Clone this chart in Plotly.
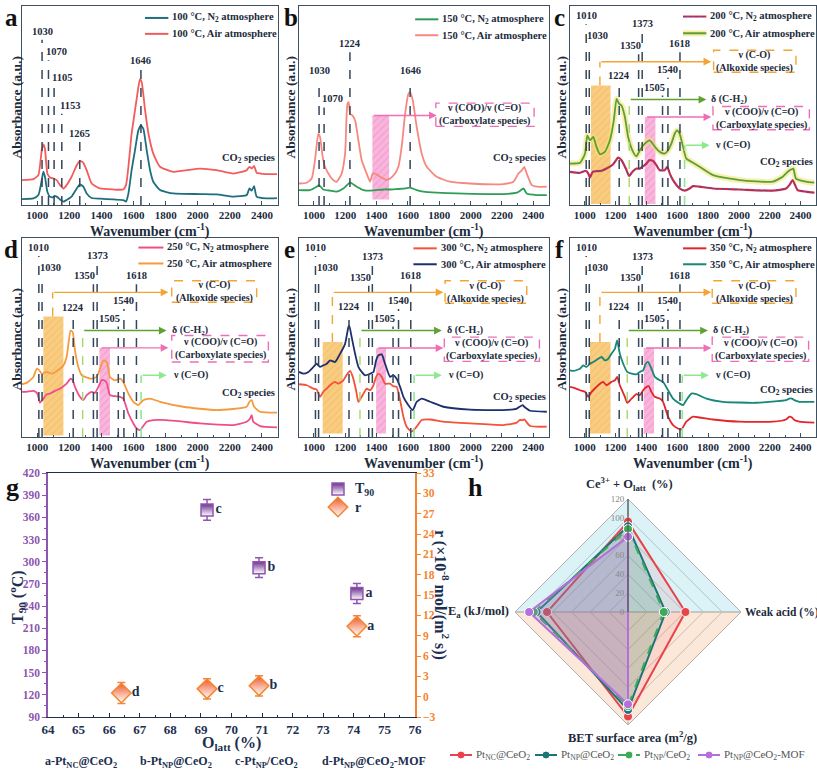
import plotly.graph_objects as go

W, H = 817, 769
FONT = "Liberation Serif"
INK = "#1C2B3C"
FRAME = "#3E4F5F"
DASHC = "#34465A"

# ---------------- DATA: FTIR spectra (absorbance in arbitrary units) ----------------
# a: 100 °C
a_n2_wn = [905, 976, 1007, 1028, 1038, 1048, 1063, 1079, 1100, 1106, 1121, 1142, 1163, 1183, 1214, 1246, 1266, 1287, 1308, 1339,
           1391, 1474, 1536, 1553, 1568, 1588, 1609, 1630, 1646, 1661, 1682, 1703, 1723, 1765, 1848, 2014, 2118, 2222, 2305, 2322,
           2336, 2351, 2367, 2429, 2494]
a_n2_ab = [3.0, 3.3, 5.0, 12.5, 16.7, 14.2, 6.7, 4.2, 3.8, 4.5, 4.2, 2.8, 1.7, 2.5, 4.2, 8.3, 10.3, 9.2, 5.8, 3.5,
           3.2, 2.8, 2.5, 1.7, 5.8, 17.5, 27.5, 37.5, 40.0, 38.3, 27.5, 17.5, 11.7, 7.5, 5.8, 5.5, 5.3, 4.2, 5.0, 8.3,
           7.2, 9.5, 4.2, 3.3, 3.5]
a_air_wn = [905, 976, 1007, 1028, 1038, 1048, 1063, 1079, 1100, 1121, 1142, 1163, 1183, 1214, 1246, 1266, 1287, 1308, 1339, 1391,
            1474, 1536, 1553, 1568, 1588, 1609, 1630, 1640, 1651, 1672, 1693, 1723, 1765, 1848, 2014, 2118, 2222, 2305, 2322, 2336,
            2351, 2367, 2429, 2494]
a_air_ab = [12.5, 13.0, 15.0, 27.5, 30.5, 28.3, 15.8, 13.8, 13.3, 12.5, 10.0, 8.3, 10.0, 14.2, 20.0, 22.2, 21.2, 17.5, 10.8, 8.3,
            7.8, 7.8, 10.0, 19.2, 35.8, 47.5, 59.2, 63.3, 61.7, 47.5, 35.8, 25.8, 19.2, 16.7, 18.3, 17.5, 15.8, 17.5, 19.2, 18.3,
            19.7, 16.2, 15.5, 15.5]
# b: 150 °C
b_n2_wn = [905, 975, 1018, 1033, 1060, 1103, 1145, 1188, 1231, 1273, 1316, 1358, 1401, 1443, 1486, 1528, 1571, 1614, 1656, 1699,
           1784, 1912, 2103, 2209, 2295, 2316, 2337, 2358, 2422, 2486]
b_n2_ab = [7.5, 7.5, 9.2, 10.0, 7.8, 7.2, 6.7, 8.3, 11.2, 9.2, 7.5, 7.2, 7.5, 7.8, 7.8, 8.0, 8.2, 8.7, 7.5, 6.7,
           6.2, 5.8, 5.5, 5.5, 6.2, 7.2, 8.3, 5.8, 5.0, 5.0]
b_air_wn = [905, 954, 986, 1007, 1028, 1039, 1056, 1071, 1092, 1114, 1145, 1177, 1199, 1214, 1222, 1231, 1245, 1263, 1284, 1305,
            1337, 1358, 1375, 1390, 1422, 1465, 1486, 1518, 1539, 1560, 1582, 1603, 1614, 1631, 1656, 1688, 1720, 1784, 1869, 1997,
            2209, 2273, 2305, 2327, 2342, 2358, 2390, 2422, 2486]
b_air_ab = [10.8, 11.2, 13.3, 22.5, 35.8, 34.2, 24.2, 19.2, 15.8, 13.3, 11.7, 15.8, 25.8, 50.8, 51.7, 45.8, 45.0, 42.5, 32.5, 22.5,
            15.8, 11.7, 15.8, 15.8, 14.2, 12.5, 13.3, 15.8, 19.2, 29.2, 45.8, 55.8, 56.7, 52.5, 39.2, 25.8, 19.2, 14.2, 11.7, 10.8,
            10.5, 11.7, 15.8, 17.5, 19.2, 15.8, 10.0, 9.2, 9.2]
# c: 200 °C
c_n2_wn = [905, 970, 1008, 1024, 1034, 1052, 1077, 1110, 1142, 1185, 1217, 1239, 1267, 1289, 1310, 1336, 1358, 1379, 1401, 1418,
           1444, 1465, 1487, 1519, 1536, 1552, 1573, 1616, 1648, 1681, 1702, 1745, 1832, 2004, 2220, 2306, 2327, 2349, 2360, 2381,
           2435, 2489]
c_n2_ab = [16.7, 16.2, 17.2, 15.8, 13.8, 16.7, 17.0, 17.2, 18.3, 20.5, 23.8, 22.5, 18.3, 14.5, 16.7, 18.3, 18.3, 19.5, 20.8, 22.5,
           22.2, 20.0, 17.5, 17.5, 19.2, 15.8, 12.5, 8.3, 7.2, 8.3, 9.5, 9.2, 8.3, 7.8, 7.2, 8.3, 10.0, 12.5, 10.8, 7.5,
           6.7, 6.2]
c_air_wn = [905, 970, 1002, 1017, 1034, 1056, 1077, 1099, 1131, 1164, 1189, 1207, 1224, 1239, 1261, 1282, 1314, 1336, 1358, 1390,
            1422, 1444, 1465, 1487, 1519, 1541, 1562, 1584, 1599, 1616, 1638, 1659, 1692, 1745, 1832, 2004, 2220, 2284, 2317, 2338,
            2353, 2370, 2435, 2489]
c_air_ab = [20.8, 21.2, 25.8, 35.0, 32.5, 34.2, 29.2, 25.5, 26.7, 32.5, 42.5, 53.3, 50.8, 50.0, 44.2, 34.2, 26.7, 24.5, 27.5, 30.8,
            32.5, 30.5, 28.3, 26.7, 25.8, 27.5, 30.8, 35.8, 37.5, 35.8, 29.2, 23.3, 21.7, 19.2, 15.0, 12.5, 11.7, 14.2, 16.7, 17.8,
            18.3, 13.3, 11.7, 11.2]
# d: 250 °C
d_n2_wn = [905, 934, 976, 1001, 1017, 1038, 1059, 1079, 1111, 1142, 1183, 1208, 1221, 1235, 1266, 1287, 1308, 1339, 1360, 1381,
           1401, 1416, 1433, 1453, 1484, 1516, 1536, 1568, 1599, 1620, 1640, 1682, 1723, 1806, 1910, 2014, 2222, 2305, 2326, 2336,
           2346, 2388, 2494]
d_n2_ab = [22.7, 22.7, 23.2, 21.8, 17.2, 19.3, 21.5, 21.8, 23.2, 24.3, 26.8, 29.3, 28.5, 25.2, 20.2, 18.5, 21.0, 22.7, 22.2, 25.2,
           28.5, 28.5, 27.2, 21.0, 20.5, 20.2, 19.3, 11.8, 6.8, 4.3, 3.5, 7.7, 8.5, 8.5, 7.7, 6.8, 6.0, 7.7, 9.3, 11.0,
           7.7, 5.5, 4.8]
d_air_wn = [905, 934, 976, 997, 1013, 1028, 1059, 1090, 1121, 1163, 1183, 1208, 1221, 1235, 1256, 1277, 1297, 1339, 1370, 1391,
            1412, 1433, 1453, 1484, 1516, 1536, 1568, 1599, 1630, 1661, 1703, 1765, 1910, 2118, 2305, 2322, 2336, 2351, 2388, 2494]
d_air_ab = [26.5, 27.2, 30.2, 34.3, 33.5, 31.8, 32.7, 31.8, 33.2, 36.0, 40.2, 53.5, 52.7, 43.5, 35.2, 31.0, 30.2, 29.3, 30.2, 34.3,
            38.5, 37.7, 30.2, 28.5, 29.3, 27.7, 21.8, 17.7, 16.0, 18.5, 19.3, 17.7, 15.2, 13.5, 15.2, 17.7, 18.5, 15.2, 12.7, 12.2]
# e: 300 °C
e_n2_wn = [905, 954, 997, 1018, 1039, 1060, 1082, 1103, 1135, 1156, 1188, 1214, 1231, 1248, 1269, 1284, 1305, 1337, 1358, 1380,
           1397, 1411, 1433, 1454, 1486, 1507, 1528, 1550, 1571, 1592, 1624, 1656, 1688, 1741, 1826, 1997, 2209, 2295, 2312, 2332,
           2342, 2380, 2486]
e_n2_ab = [26.5, 26.0, 24.3, 23.8, 20.2, 22.7, 24.3, 26.0, 27.7, 26.8, 28.5, 31.8, 33.2, 30.2, 23.5, 17.7, 20.2, 24.3, 23.5, 26.0,
           30.2, 31.8, 30.2, 26.8, 26.8, 25.5, 25.2, 18.5, 10.2, 5.2, 2.7, 5.2, 8.5, 8.8, 7.7, 6.8, 6.0, 7.2, 8.5, 8.5,
           8.8, 5.5, 5.2]
e_air_wn = [905, 933, 965, 997, 1018, 1039, 1060, 1082, 1103, 1135, 1167, 1199, 1220, 1226, 1241, 1263, 1284, 1305, 1326, 1358,
            1380, 1397, 1411, 1433, 1454, 1486, 1507, 1528, 1550, 1571, 1603, 1631, 1656, 1688, 1741, 1826, 1997, 2209, 2295, 2312,
            2332, 2342, 2380, 2486]
e_air_ab = [32.7, 31.8, 32.7, 35.2, 36.8, 35.2, 36.0, 36.8, 38.5, 37.7, 41.8, 46.8, 55.2, 56.0, 50.2, 41.8, 35.2, 32.7, 31.0, 31.8,
            32.7, 38.5, 41.0, 41.5, 36.8, 30.2, 31.0, 29.3, 25.2, 20.2, 16.0, 13.5, 17.7, 19.3, 17.7, 15.2, 13.8, 13.5, 14.3, 15.2,
            16.0, 15.2, 13.2, 12.7]
# f: 350 °C
f_n2_wn = [905, 927, 970, 1002, 1024, 1045, 1077, 1099, 1120, 1142, 1174, 1196, 1211, 1228, 1261, 1276, 1304, 1336, 1358, 1379,
           1401, 1416, 1433, 1455, 1487, 1508, 1541, 1573, 1605, 1627, 1659, 1702, 1745, 1832, 2004, 2220, 2306, 2327, 2344, 2360,
           2392, 2489]
f_n2_ab = [25.2, 24.8, 23.5, 22.7, 20.2, 22.7, 25.2, 26.8, 27.7, 26.0, 27.7, 28.5, 30.2, 26.0, 20.2, 17.2, 19.3, 21.5, 21.0, 23.5,
           25.2, 25.5, 22.7, 20.2, 19.3, 17.7, 10.2, 6.0, 4.3, 3.8, 7.7, 10.2, 9.8, 8.8, 7.7, 7.7, 8.8, 10.2, 9.8, 8.5,
           7.7, 7.2]
f_air_wn = [905, 927, 970, 991, 1013, 1034, 1056, 1088, 1110, 1131, 1153, 1174, 1196, 1211, 1228, 1250, 1276, 1304, 1336, 1358,
            1379, 1396, 1411, 1433, 1455, 1487, 1508, 1541, 1573, 1616, 1638, 1659, 1692, 1724, 1789, 1896, 2112, 2306, 2327, 2344,
            2360, 2392, 2489]
f_air_ab = [33.5, 33.2, 34.3, 36.0, 35.2, 36.8, 37.7, 39.3, 40.2, 38.5, 39.3, 41.8, 44.3, 48.5, 41.8, 36.8, 32.7, 31.8, 31.5, 32.7,
            33.5, 36.8, 37.7, 34.3, 30.2, 28.5, 27.7, 23.5, 19.3, 16.8, 16.0, 18.5, 21.8, 21.5, 19.3, 17.7, 17.2, 18.5, 19.3, 19.3,
            18.5, 17.7, 17.7]

temps = ["100", "150", "200", "250", "300", "350"]
peaks_a = [1030, 1070, 1105, 1153, 1265, 1646]
peaks_b_label = [1030, 1070, 1224, 1646]
peaks_b_pos = [1033, 1065, 1230, 1614]
peaks_cf = [1010, 1030, 1224, 1350, 1373, 1505, 1540, 1618]

# ---------------- DATA: panel g ----------------
g_T_olatt = [74.1, 70.9, 69.2]
g_T90 = [257, 292, 370]
g_T90_err = [13.5, 13.5, 14]
g_T_lab = ["a", "b", "c"]
g_r_olatt = [74.1, 70.9, 69.2, 66.4]
g_r = [10.4, 1.6, 1.15, 0.55]
g_r_err = [1.55, 1.5, 1.5, 1.55]
g_r_lab = ["a", "b", "c", "d"]
g_samples = ["a-Pt<sub>NC</sub>@CeO<sub>2</sub>", "b-Pt<sub>NP</sub>@CeO<sub>2</sub>",
             "c-Pt<sub>NP</sub>/CeO<sub>2</sub>", "d-Pt<sub>NP</sub>@CeO<sub>2</sub>-MOF"]

# ---------------- DATA: panel h (radar) ----------------
h_cats = ["Ce3+ + Olatt", "Weak acid", "BET", "Ea"]
h_names = ["Pt<sub>NC</sub>@CeO<sub>2</sub>", "Pt<sub>NP</sub>@CeO<sub>2</sub>",
           "Pt<sub>NP</sub>/CeO<sub>2</sub>", "Pt<sub>NP</sub>@CeO<sub>2</sub>-MOF"]
h_ptnc = [96, 61, 111, 86]
h_ptnp = [91, 40, 104, 97]
h_ptnp_s = [88, 38, 100, 100]
h_mof = [80, 0, 98, 105]

# ---------------- FIGURE ----------------
fig = go.Figure()
shapes, annos = [], []
layout = {}

panels = [(22, 278, 6, 205), (299, 549, 6, 205), (570, 816, 6, 205),
          (22, 278, 238, 437), (299, 549, 238, 437), (570, 816, 238, 437)]


def sid(i):
    return "" if i == 1 else str(i)


for i, (x0, x1, y0, y1) in enumerate(panels, start=1):
    layout["xaxis" + sid(i)] = dict(domain=[x0 / W, x1 / W], range=[905, 2500], anchor="y" + sid(i),
                                    tick0=1000, dtick=200, ticks="inside", ticklen=4, tickcolor=FRAME,
                                    tickangle=0, automargin=False,
                                    minor=dict(dtick=100, ticklen=2, ticks="inside", tickcolor=FRAME),
                                    showline=True, linecolor=FRAME, linewidth=1.2, mirror=True,
                                    showgrid=False, zeroline=False,
                                    tickfont=dict(size=11, color=INK, family=FONT, weight="bold"))
    layout["yaxis" + sid(i)] = dict(domain=[1 - y1 / H, 1 - y0 / H], range=[0, 100], anchor="x" + sid(i),
                                    showticklabels=False, ticks="", showline=True, linecolor=FRAME,
                                    automargin=False,
                                    linewidth=1.2, mirror=True, showgrid=False, zeroline=False)


def add_line(i, x, y, color, width=1.8, dash=None, glow=None):
    if glow:
        fig.add_trace(go.Scatter(x=x, y=y, mode="lines", xaxis="x" + sid(i), yaxis="y" + sid(i),
                                 line=dict(color=glow, width=6, shape="spline", smoothing=0.5),
                                 showlegend=False, hoverinfo="skip"))
    fig.add_trace(go.Scatter(x=x, y=y, mode="lines", xaxis="x" + sid(i), yaxis="y" + sid(i),
                             line=dict(color=color, width=width, dash=dash, shape="spline", smoothing=0.5),
                             showlegend=False, hoverinfo="skip"))


def add_hatch(i, x0, x1, y0, y1, bg, fg):
    fig.add_trace(go.Bar(x=[(x0 + x1) / 2], y=[y1 - y0], base=[y0], width=[x1 - x0],
                         xaxis="x" + sid(i), yaxis="y" + sid(i), opacity=0.85,
                         marker=dict(color=bg, line=dict(width=0),
                                     pattern=dict(shape="/", fgcolor=fg, bgcolor=bg, size=5, solidity=0.25)),
                         showlegend=False, hoverinfo="skip"))


def xr(i):
    return "x" + sid(i)


def yr(i):
    return "y" + sid(i)


def vdash(i, x, y0, y1, color=DASHC, width=1.5, dash="dash"):
    shapes.append(dict(type="line", xref=xr(i), yref=yr(i), x0=x, x1=x, y0=y0, y1=y1,
                       line=dict(color=color, width=width, dash=dash)))


def arrow(i, xt, xh, y, color):
    annos.append(dict(xref=xr(i), yref=yr(i), axref=xr(i), ayref=yr(i), x=xh, y=y, ax=xt, ay=y,
                      showarrow=True, arrowhead=2, arrowsize=1.1, arrowwidth=1.4, arrowcolor=color, text=""))


def txt(i, x, y, s, size=10, xanchor="center", color=INK, xshift=0, yanchor="middle"):
    annos.append(dict(xref=xr(i), yref=yr(i), x=x, y=y, text=s, showarrow=False, xanchor=xanchor,
                      yanchor=yanchor, xshift=xshift, font=dict(size=size, color=color, family=FONT, weight="bold")))


def dbox(i, x0, x1, y0, y1, color):
    shapes.append(dict(type="rect", xref=xr(i), yref=yr(i), x0=x0, x1=x1, y0=y0, y1=y1,
                       line=dict(color=color, width=1.4, dash="dash"), fillcolor="rgba(255,255,255,0)"))


ORANGE = "#F2A534"
ORANGE_BG = "#F7C46C"
PINK = "#F06EB8"
PINK_BG = "#F7A9D6"
GREEN = "#5EA332"
LGREEN = "#8EE88E"

# ---- hatched regions first (behind curves) ----
add_hatch(2, 1373, 1480, 2.8, 45, PINK_BG, PINK)
group = {
    3: dict(orect=(1041, 1168, 0.5, 60), ox=1099, oy=72, oh=1821, obox=(1836, 2370, 66.7, 77.8),
            gx=1289, gy=53, gh=1789, prect=(1390, 1459, 0.5, 44.2), ph=1821, pbox=(1832, 2457, 37.8, 49.5),
            lx=1648, ly=30, lh=1810),
    4: dict(orect=(1038, 1163, 0.7, 60.5), ox=1096, oy=72.7, oh=1817, obox=(1838, 2367, 67.7, 78.5),
            gx=1283, gy=53.5, gh=1806, prect=(1387, 1453, 0.7, 44.8), ph=1817, pbox=(1838, 2440, 37.7, 51),
            lx=1647, ly=31, lh=1806),
    5: dict(orect=(1056, 1184, 1.8, 47.7), ox=1118, oy=72.7, oh=1826, obox=(1837, 2358, 67.2, 78.5),
            gx=1294, gy=53.5, gh=1816, prect=(1397, 1460, 1.8, 44.7), ph=1826, pbox=(1832, 2439, 38, 50.2),
            lx=1639, ly=31, lh=1816),
    6: dict(orect=(1034, 1168, 1.8, 47.7), ox=1099, oy=72.7, oh=1821, obox=(1827, 2370, 67.2, 78.5),
            gx=1276, gy=53.5, gh=1799, prect=(1383, 1450, 1.8, 44.7), ph=1821, pbox=(1827, 2452, 38, 50.2),
            lx=1633, ly=31, lh=1805),
}
for i, gdef in group.items():
    x0, x1, y0, y1 = gdef["orect"]
    add_hatch(i, x0, x1, y0, y1, ORANGE_BG, ORANGE)
    x0, x1, y0, y1 = gdef["prect"]
    add_hatch(i, x0, x1, y0, y1, PINK_BG, PINK)

# ---- curves ----
add_line(1, a_n2_wn, a_n2_ab, "#1F6E7E")
add_line(1, a_air_wn, a_air_ab, "#F25C5C")
add_line(2, b_n2_wn, b_n2_ab, "#2E9E57")
add_line(2, b_air_wn, b_air_ab, "#F5897F")
add_line(3, c_n2_wn, c_n2_ab, "#D9283C", width=2.2)
add_line(3, c_n2_wn, c_n2_ab, "#3355CC", width=1, dash="dot")
add_line(3, c_air_wn, c_air_ab, "#5E9E3A", glow="rgba(240,228,110,0.55)")
add_line(4, d_n2_wn, d_n2_ab, "#EE4F8A")
add_line(4, d_air_wn, d_air_ab, "#F59A3E")
add_line(5, e_n2_wn, e_n2_ab, "#F2533A")
add_line(5, e_air_wn, e_air_ab, "#1E2F6E")
add_line(6, f_n2_wn, f_n2_ab, "#E3262B")
add_line(6, f_air_wn, f_air_ab, "#178777")

# ---- peak markers ----
tops_a = [83, 72.8, 60, 45.8, 31.7, 68.3]
anch_a = ["center", "left", "left", "left", "center", "center"]
tops_b = [63.3, 49, 76.7, 63.3]
anch_b = ["center", "left", "center", "center"]
tops_cf = {3: [90.8, 80.8, 60.8, 75.8, 86.7, 55, 64, 76.7],
           4: [91, 81, 61, 76.8, 86.8, 55.5, 64.3, 76.8],
           5: [91, 81, 61.3, 76, 86.5, 55.5, 64.3, 76.8],
           6: [91, 81, 61.3, 76, 86.5, 55.5, 64.3, 76.8]}
anch_cf = ["center", "left", "center", "right", "center", "right", "center", "center"]


def peak_set(i, pos, labels, tops, anchors):
    for p, l, t, a in zip(pos, labels, tops, anchors):
        vdash(i, p, 0, t)
        sh = {"center": 0, "left": -4, "right": 4}[a]
        txt(i, p, t + 0.5, str(l), size=10.5, xanchor=a, xshift=sh, yanchor="bottom")


peak_set(1, peaks_a, peaks_a, tops_a, anch_a)
peak_set(2, peaks_b_pos, peaks_b_label, tops_b, anch_b)
for i in (3, 4, 5, 6):
    peak_set(i, peaks_cf, peaks_cf, tops_cf[i], anch_cf)

# ---- assignment annotations ----
arrow(2, 1373, 1784, 45, PINK)
dbox(2, 1778, 2405, 39.5, 51.2, PINK)
txt(2, 2091, 45.3, "ν (COO)/ν (C=O)<br>(Carboxylate species)")
for i, gdef in group.items():
    vdash(i, gdef["ox"], gdef["orect"][3], gdef["oy"], color=ORANGE, width=1.4)
    arrow(i, gdef["ox"], gdef["oh"], gdef["oy"], ORANGE)
    x0, x1, y0, y1 = gdef["obox"]
    dbox(i, x0, x1, y0, y1, ORANGE)
    txt(i, (x0 + x1) / 2, (y0 + y1) / 2, "ν (C-O)<br>(Alkoxide species)")
    vdash(i, gdef["gx"], 0, gdef["gy"], color="#A8D86A", width=1.4)
    arrow(i, gdef["gx"], gdef["gh"], gdef["gy"], GREEN)
    txt(i, gdef["gh"] + 20, gdef["gy"], "δ (C-H<sub>2</sub>)", xanchor="left")
    arrow(i, gdef["prect"][0] + 5, gdef["ph"], gdef["prect"][3], PINK)
    x0, x1, y0, y1 = gdef["pbox"]
    dbox(i, x0, x1, y0, y1, PINK)
    txt(i, (x0 + x1) / 2, (y0 + y1) / 2, "ν (COO)/ν (C=O)<br>(Carboxylate species)")
    vdash(i, gdef["lx"], 0, gdef["ly"], color=LGREEN, width=1.6)
    arrow(i, gdef["lx"], gdef["lh"], gdef["ly"], LGREEN)
    txt(i, gdef["lh"] + 25, gdef["ly"], "ν (C=O)", xanchor="left")

# ---- manual legends for spectra ----
leg_pos = {1: (1671, 1817, 94, 86), 2: (1646, 1794, 93.3, 85.3), 3: (1638, 1789, 94.7, 86.3),
           4: (1630, 1786, 95.2, 87.2), 5: (1635, 1784, 94.8, 86.8), 6: (1638, 1789, 94.8, 86.8)}
leg_cols = {1: ("#1F6E7E", "#F25C5C"), 2: ("#2E9E57", "#F5897F"), 3: ("#D9283C", "#5E9E3A"),
            4: ("#EE4F8A", "#F59A3E"), 5: ("#F2533A", "#1E2F6E"), 6: ("#E3262B", "#178777")}
for i, (lx0, lx1, yn, ya) in leg_pos.items():
    cn, ca = leg_cols[i]
    if i == 3:
        shapes.append(dict(type="line", xref=xr(i), yref=yr(i), x0=lx0, x1=lx1, y0=ya, y1=ya,
                           line=dict(color="rgba(240,228,110,0.6)", width=6)))
    shapes.append(dict(type="line", xref=xr(i), yref=yr(i), x0=lx0, x1=lx1, y0=yn, y1=yn,
                       line=dict(color=cn, width=2)))
    if i == 3:
        shapes.append(dict(type="line", xref=xr(i), yref=yr(i), x0=lx0, x1=lx1, y0=yn, y1=yn,
                           line=dict(color="#3355CC", width=1, dash="dot")))
    shapes.append(dict(type="line", xref=xr(i), yref=yr(i), x0=lx0, x1=lx1, y0=ya, y1=ya,
                       line=dict(color=ca, width=2)))
    t = temps[i - 1]
    txt(i, lx1 + 12, yn, f"{t} °C, N<sub>2</sub> atmosphere", size=10.5, xanchor="left")
    txt(i, lx1 + 12, ya, f"{t} °C, Air atmosphere", size=10.5, xanchor="left")

co2_y = {1: 23.3, 2: 23.3, 3: 21.3, 4: 21.8, 5: 19.7, 6: 23.2}
for i, yv in co2_y.items():
    txt(i, 2492, yv, "CO<sub>2</sub> species", size=10.5, xanchor="right")


def paper_txt(xp, yp, s, size, color=INK, angle=0, xanchor="center", yanchor="middle", weight="bold"):
    annos.append(dict(xref="paper", yref="paper", x=xp / W, y=1 - yp / H, text=s, showarrow=False,
                      textangle=angle, xanchor=xanchor, yanchor=yanchor,
                      font=dict(size=size, color=color, family=FONT, weight=weight)))


for (x0, x1, y0, y1), lab_x, letter_x, letter in zip(
        panels, [16, 290, 561, 16, 290, 561], [3, 282, 552, 2, 282, 553], "abcdef"):
    paper_txt(lab_x, (y0 + y1) / 2 + 2, "Absorbance (a.u.)", 13.5, angle=-90)
    paper_txt((x0 + x1) / 2, y1 + 25, "Wavenumber (cm<sup>-1</sup>)", 14)
    paper_txt(letter_x, y0 - 4, letter, 25, color="#111111", xanchor="left", yanchor="top")

# ---------------- panel g ----------------
PURPLE = "#8E56B0"
ORG = "#F5852F"
NAVY = "#1C2F50"
gx0, gx1, gy0, gy1 = 48, 415, 473, 717
layout["xaxis7"] = dict(domain=[gx0 / W, gx1 / W], range=[64, 76], dtick=1, anchor="y7", ticks="inside",
                        ticklen=4, tickcolor=NAVY, showline=True, linecolor=NAVY, linewidth=1.3, mirror=True,
                        tickangle=0, automargin=False,
                        minor=dict(dtick=0.5, ticklen=2, ticks="inside", tickcolor=NAVY),
                        showgrid=False, zeroline=False,
                        tickfont=dict(size=13, color=NAVY, family=FONT, weight="bold"))
layout["yaxis7"] = dict(domain=[1 - gy1 / H, 1 - gy0 / H], range=[90, 420], dtick=30, anchor="x7",
                        ticks="outside", ticklen=4, tickcolor=PURPLE, showline=True, linecolor=PURPLE,
                        automargin=False,
                        linewidth=1.5, minor=dict(dtick=15, ticklen=2, ticks="outside", tickcolor=PURPLE),
                        showgrid=False, zeroline=False,
                        tickfont=dict(size=11.5, color=PURPLE, family=FONT, weight="bold"))
layout["yaxis8"] = dict(overlaying="y7", side="right", anchor="x7", range=[-3, 33], dtick=3,
                        ticks="outside", ticklen=4, tickcolor=ORG, showline=True, linecolor=ORG,
                        automargin=False,
                        linewidth=1.5, showgrid=False, zeroline=False,
                        tickfont=dict(size=11.5, color=ORG, family=FONT, weight="bold"))

T_MARK = dict(symbol="square", size=12, color="#6E2E8E", gradient=dict(type="vertical", color="white"),
              line=dict(color=PURPLE, width=1.5))
R_MARK = dict(symbol="diamond", size=15, color="#EF5A2A", gradient=dict(type="vertical", color="white"),
              line=dict(color=ORG, width=1.5))
fig.add_trace(go.Scatter(
    x=g_T_olatt, y=g_T90, xaxis="x7", yaxis="y7", mode="markers+text", text=g_T_lab,
    textposition="middle right", textfont=dict(size=14, color=NAVY, family=FONT, weight="bold"),
    error_y=dict(type="data", array=g_T90_err, color=PURPLE, thickness=1.5, width=4),
    marker=T_MARK, showlegend=False, hoverinfo="skip"))
fig.add_trace(go.Scatter(
    x=g_r_olatt, y=g_r, xaxis="x7", yaxis="y8", mode="markers+text", text=g_r_lab,
    textposition="middle right", textfont=dict(size=14, color=NAVY, family=FONT, weight="bold"),
    error_y=dict(type="data", array=g_r_err, color=ORG, thickness=1.5, width=4),
    marker=R_MARK, showlegend=False, hoverinfo="skip"))

# pixel-space helper axes for legend symbols
layout["xaxis9"] = dict(domain=[0, 1], range=[0, W], visible=False, anchor="y9", fixedrange=True)
layout["yaxis9"] = dict(domain=[0, 1], range=[H, 0], visible=False, anchor="x9", fixedrange=True)
fig.add_trace(go.Scatter(x=[338], y=[489], xaxis="x9", yaxis="y9", mode="markers", marker=T_MARK,
                         showlegend=False, hoverinfo="skip"))
fig.add_trace(go.Scatter(x=[338], y=[507], xaxis="x9", yaxis="y9", mode="markers", marker=R_MARK,
                         showlegend=False, hoverinfo="skip"))
paper_txt(353, 490, "T<sub>90</sub>", 14, color=NAVY, xanchor="left")
paper_txt(353, 507, "r", 14, color=NAVY, xanchor="left")

paper_txt((gx0 + gx1) / 2, 743, "O<sub>latt</sub> (%)", 16, color=NAVY)
paper_txt(17, 597, "T<sub>90</sub> (<sup>o</sup>C)", 16, color=NAVY, angle=-90)
paper_txt(442, 595, "r (×10<sup>-8</sup> mol/(m<sup>2</sup> s))", 16, color=NAVY, angle=90)
for s, xp in zip(g_samples, [43, 138, 233, 320]):
    paper_txt(xp, 762, s, 12, color=NAVY, xanchor="left")
paper_txt(4, 471, "g", 26, color="#111111", xanchor="left", yanchor="top")

# ---------------- panel h (radar) ----------------
cx, cy, rad = 628, 612, 113
closed = h_cats + [h_cats[0]]
fig.add_trace(go.Scatterpolar(r=[120, 120, 120, 120], theta=[h_cats[0], h_cats[1], h_cats[3], h_cats[0]],
                              mode="lines", fill="toself", fillcolor="rgba(190,232,238,0.55)",
                              line=dict(width=0, color="rgba(0,0,0,0)"), showlegend=False, hoverinfo="skip"))
fig.add_trace(go.Scatterpolar(r=[120, 120, 120, 120], theta=[h_cats[1], h_cats[2], h_cats[3], h_cats[1]],
                              mode="lines", fill="toself", fillcolor="rgba(250,214,184,0.55)",
                              line=dict(width=0, color="rgba(0,0,0,0)"), showlegend=False, hoverinfo="skip"))
h_series = [h_ptnc, h_ptnp, h_ptnp_s, h_mof]
h_cols = ["#E8424A", "#1A7478", "#3DAA5A", "#B46FDC"]
h_fill = ["rgba(232,66,74,0.10)", "rgba(26,116,120,0.12)", "rgba(61,170,90,0.10)", "rgba(180,111,220,0.22)"]
h_dash = ["solid", "solid", "dash", "solid"]
for vals, nm, col, fc, ds in zip(h_series, h_names, h_cols, h_fill, h_dash):
    fig.add_trace(go.Scatterpolar(r=vals + [vals[0]], theta=closed, mode="lines+markers", name=nm,
                                  fill="toself", fillcolor=fc, line=dict(color=col, width=2, dash=ds),
                                  marker=dict(size=9, color=col, line=dict(color="white", width=1)),
                                  showlegend=False, hoverinfo="skip"))
layout["polar"] = dict(
    domain=dict(x=[(cx - rad) / W, (cx + rad) / W], y=[1 - (cy + rad) / H, 1 - (cy - rad) / H]),
    bgcolor="rgba(0,0,0,0)", gridshape="linear",
    radialaxis=dict(range=[0, 120], tickvals=[0, 20, 40, 60, 80, 100, 120], angle=90, tickangle=90,
                    side="counterclockwise",
                    showline=True, linecolor="#555555", linewidth=1.2, ticks="", gridcolor="#9A9A9A",
                    gridwidth=0.8, tickfont=dict(size=9, color="#888888", family=FONT, weight="normal")),
    angularaxis=dict(rotation=90, direction="clockwise", showticklabels=False, ticks="",
                     categoryorder="array", categoryarray=h_cats,
                     linecolor="#B0B0B0", gridcolor="#555555", gridwidth=1.2))
paper_txt(629, 484, "Ce<sup>3+</sup> + O<sub>latt</sub>  (%)", 12.5)
paper_txt(743, 612, "Weak acid (%)", 11.5, xanchor="left")
paper_txt(632, 737, "BET surface area (m<sup>2</sup>/g)", 12.5)
paper_txt(511, 612, "E<sub>a</sub> (kJ/mol)", 12.5, xanchor="right")
paper_txt(466, 471, "h", 26, color="#111111", xanchor="left", yanchor="top")

# legend of panel h (manual)
leg_x = [460, 545, 628, 708]
for nm, col, ds, lx in zip(h_names, h_cols, h_dash, leg_x):
    shapes.append(dict(type="line", xref="paper", yref="paper", x0=(lx - 10) / W, x1=(lx + 12) / W,
                       y0=1 - 755 / H, y1=1 - 755 / H, line=dict(color=col, width=2, dash=ds)))
    paper_txt(lx + 14, 755, nm, 11, color="#555555", xanchor="left", weight="normal")
fig.add_trace(go.Scatter(x=[lx + 1 for lx in leg_x], y=[755] * 4, xaxis="x9", yaxis="y9", mode="markers",
                         marker=dict(size=8, color=h_cols, line=dict(color="white", width=1)),
                         showlegend=False, hoverinfo="skip"))

layout.update(dict(
    width=W, height=H, margin=dict(l=0, r=0, t=0, b=0, autoexpand=False),
    paper_bgcolor="white", plot_bgcolor="rgba(0,0,0,0)", showlegend=False,
    font=dict(family=FONT, color=INK, weight="bold"),
    barmode="overlay", shapes=shapes, annotations=annos,
))
fig.update_layout(layout)
fig.write_html("out.html")
